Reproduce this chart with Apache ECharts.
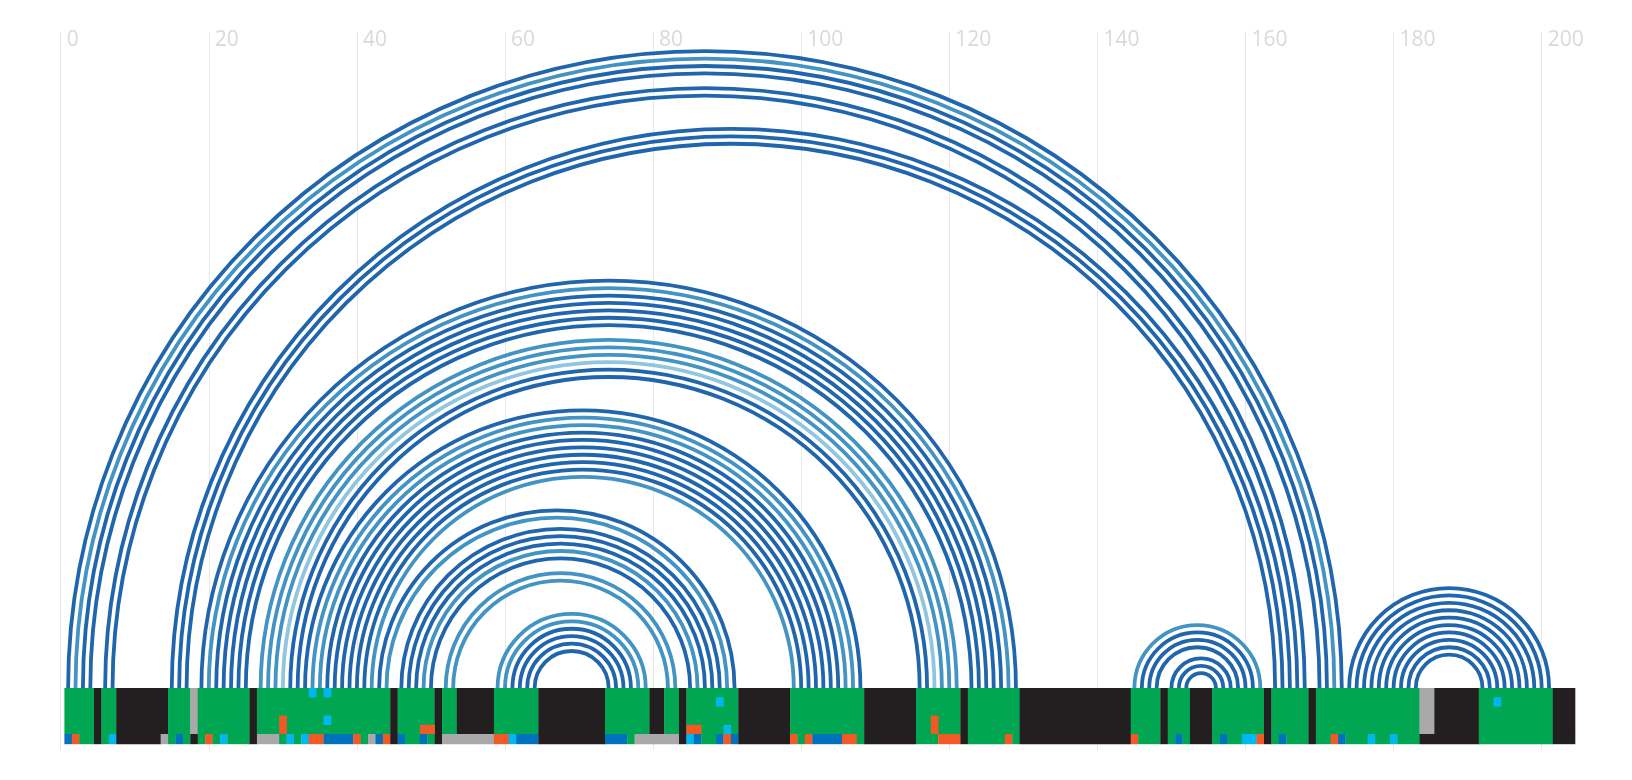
<!DOCTYPE html>
<html><head><meta charset="utf-8">
<script src="https://cdn.jsdelivr.net/npm/echarts/dist/echarts.min.js"></script>
<style>html,body{margin:0;padding:0;background:#fff}#c{width:1632px;height:780px}</style>
</head><body><div id="c"></div>
<script>
// ---- DATA ----
const axisMin = 0, axisMax = 200, axisStep = 20;

// base pairs [i, j]
const pairs = [
  [1,173],[2,172],[3,171],[4,170],[6,168],[7,167],
  [15,166],[16,165],[17,164],
  [19,129],[20,128],[21,127],[22,126],[23,125],[24,124],[25,123],
  [27,121],[28,120],[29,119],[30,118],[31,117],[32,116],
  [33,108],[34,107],[35,106],[36,105],[37,104],[38,103],[39,102],[40,101],[41,100],[42,99],
  [43,91],[44,90],[46,89],[47,88],[48,87],[49,86],[50,85],
  [52,83],[53,82],
  [59,79],[60,78],[61,77],[62,76],[63,75],[64,74],
  [145,162],[146,161],[147,160],[148,159],[150,158],[151,157],[152,156],
  [174,201],[175,200],[176,199],[177,198],[178,197],[179,196],[180,195],[181,194],[182,193],[183,192]
];
// shade of each pair: 2 = dark, 1 = medium, 0 = light
const pairShade = [
  2,1,2,2,2,2,
  2,2,2,
  2,1,2,2,2,2,2,
  1,1,1,0,2,2,
  2,1,1,2,2,2,2,2,2,1,
  2,1,2,2,2,1,2,
  1,1,
  1,1,2,2,2,2,
  1,2,2,2,2,2,2,
  2,2,2,2,2,2,2,2,2,2
];

// structure track (rows 0-4): [start, end, colorKey]
const structureRuns = [
  [1,4,'G'],[5,5,'K'],[6,7,'G'],[8,14,'K'],[15,17,'G'],[18,18,'Y'],[19,25,'G'],[26,26,'K'],
  [27,44,'G'],[45,45,'K'],[46,50,'G'],[51,51,'K'],[52,53,'G'],[54,58,'K'],[59,64,'G'],[65,73,'K'],
  [74,79,'G'],[80,81,'K'],[82,83,'G'],[84,84,'K'],[85,91,'G'],[92,98,'K'],[99,108,'G'],[109,115,'K'],
  [116,121,'G'],[122,122,'K'],[123,129,'G'],[130,144,'K'],[145,148,'G'],[149,149,'K'],[150,152,'G'],
  [153,155,'K'],[156,162,'G'],[163,163,'K'],[164,168,'G'],[169,169,'K'],[170,183,'G'],[184,185,'Y'],
  [186,191,'K'],[192,201,'G'],[202,204,'K']
];

// marked cells inside the structure track: [position, firstRow, lastRow, colorKey]
const markCells = [
  [30,3,4,'O'],[34,0,0,'C'],[36,0,0,'C'],[36,3,3,'C'],[49,4,4,'O'],[50,4,4,'O'],
  [85,4,4,'O'],[86,4,4,'O'],[89,1,1,'C'],[90,4,4,'C'],[118,3,4,'O'],[194,1,1,'C']
];

// bottom annotation track (row 5): [start, end, colorKey]
const bottomRuns = [
  [1,1,'B'],[2,2,'O'],[3,4,'G'],[5,5,'K'],[6,6,'G'],[7,7,'C'],[8,13,'K'],[14,14,'Y'],[15,15,'G'],
  [16,16,'B'],[17,17,'G'],[18,18,'K'],[19,19,'G'],[20,20,'O'],[21,21,'G'],[22,22,'C'],[23,25,'G'],
  [26,26,'K'],[27,29,'Y'],[30,30,'G'],[31,31,'C'],[32,32,'G'],[33,33,'C'],[34,35,'O'],[36,39,'B'],
  [40,40,'O'],[41,41,'G'],[42,42,'Y'],[43,43,'B'],[44,44,'O'],[45,45,'K'],[46,46,'B'],[47,48,'G'],
  [49,49,'B'],[50,50,'G'],[51,51,'K'],[52,58,'Y'],[59,60,'O'],[61,61,'C'],[62,64,'B'],[65,73,'K'],
  [74,76,'B'],[77,77,'G'],[78,83,'Y'],[84,84,'K'],[85,85,'C'],[86,86,'B'],[87,88,'G'],[89,89,'B'],
  [90,90,'O'],[91,91,'B'],[92,98,'K'],[99,99,'O'],[100,100,'G'],[101,101,'O'],[102,105,'B'],
  [106,107,'O'],[108,108,'G'],[109,115,'K'],[116,118,'G'],[119,121,'O'],[122,122,'K'],[123,127,'G'],
  [128,128,'O'],[129,129,'G'],[130,144,'K'],[145,145,'O'],[146,148,'G'],[149,149,'K'],[150,150,'G'],
  [151,151,'B'],[152,152,'G'],[153,155,'K'],[156,156,'G'],[157,157,'B'],[158,159,'G'],[160,161,'C'],
  [162,162,'O'],[163,163,'K'],[164,164,'G'],[165,165,'B'],[166,168,'G'],[169,169,'K'],[170,171,'G'],
  [172,172,'O'],[173,173,'B'],[174,176,'G'],[177,177,'C'],[178,179,'G'],[180,180,'C'],[181,183,'G'],
  [184,191,'K'],[192,201,'G'],[202,204,'K']
];

// ---- STYLE ----
const shadeColors = ['#92c5de', '#4393c3', '#2166ac'];
const cellColors = { G:'#00a651', K:'#231f20', Y:'#a9a9a9', O:'#f15a24', B:'#0071bc', C:'#00b8f1' };
const rowEdges = [0, 9.2, 18.4, 27.6, 36.8, 46, 56]; // px below baseline

const stripData = [];
structureRuns.forEach(r => stripData.push([r[0], r[1], 0, 4, r[2]]));
markCells.forEach(c => stripData.push([c[0], c[0], c[1], c[2], c[3]]));
bottomRuns.forEach(r => stripData.push([r[0], r[1], 5, 5, r[2]]));

const arcData = pairs.map((p, k) => [p[0], p[1], pairShade[k]]);

const chart = echarts.init(document.getElementById('c'), null, {renderer: 'canvas'});
chart.setOption({
  animation: false,
  grid: { left: 60.7, right: 90.3, top: 32, bottom: 30 },
  xAxis: {
    type: 'value', position: 'top', min: axisMin, max: axisMax, interval: axisStep,
    axisLine: { show: false }, axisTick: { show: false },
    axisLabel: { inside: true, margin: -2, align: 'left', padding: [0,0,0,6],
      color: '#d9d9d9', fontSize: 21, fontFamily: 'Open Sans' },
    splitLine: { show: true, lineStyle: { color: '#e8e8e8', width: 1 } }
  },
  yAxis: { type: 'value', min: -62, max: 656, show: false },
  series: [
    {
      type: 'custom', name: 'pairs', data: arcData, z: 2, clip: false,
      encode: { x: [0, 1] },
      renderItem: function (params, api) {
        const a = api.coord([api.value(0), 0]);
        const b = api.coord([api.value(1), 0]);
        return {
          type: 'arc',
          shape: { cx: (a[0] + b[0]) / 2, cy: a[1], r: (b[0] - a[0]) / 2,
                   startAngle: Math.PI, endAngle: 2 * Math.PI, clockwise: true },
          style: { stroke: shadeColors[api.value(2)], fill: null, lineWidth: 3.8 }
        };
      }
    },
    {
      type: 'custom', name: 'tracks', data: stripData, z: 3, clip: false,
      dimensions: ['start', 'end', 'rowA', 'rowB', { name: 'color', type: 'ordinal' }],
      encode: { x: [0, 1] },
      renderItem: function (params, api) {
        const d = stripData[params.dataIndex];
        const p0 = api.coord([d[0] - 0.5, 0]);
        const p1 = api.coord([d[1] + 0.5, 0]);
        const y0 = p0[1] + rowEdges[d[2]];
        const y1 = p0[1] + rowEdges[d[3] + 1];
        return {
          type: 'rect',
          shape: { x: p0[0], y: y0, width: p1[0] - p0[0] + 0.3, height: y1 - y0 + 0.2 },
          style: { fill: cellColors[d[4]] }
        };
      }
    }
  ]
});
</script>
</body></html>
